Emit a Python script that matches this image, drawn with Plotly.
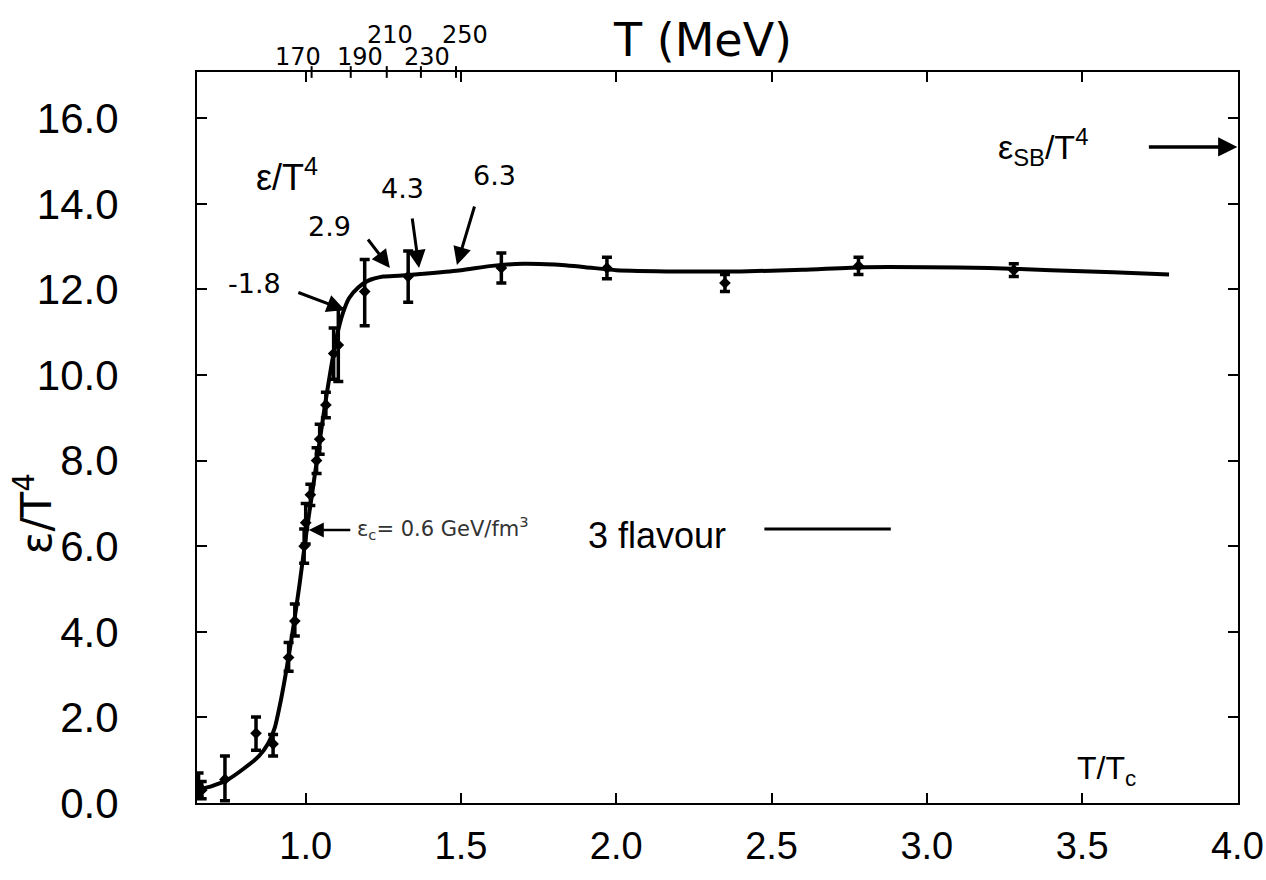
import plotly.graph_objects as go

# ---- data ----
t_over_tc = [0.655, 0.665, 0.74, 0.84, 0.895, 0.945, 0.965, 0.995, 1.0, 1.015, 1.035,
             1.045, 1.065, 1.09, 1.105, 1.19, 1.33, 1.63, 1.97, 2.35, 2.78, 3.28]
eps_t4 = [0.40, 0.30, 0.55, 1.63, 1.38, 3.40, 4.25, 6.0, 6.55, 7.2, 8.0,
          8.5, 9.3, 10.5, 10.7, 11.95, 12.3, 12.5, 12.5, 12.15, 12.55, 12.45]
err_up = [0.30, 0.20, 0.55, 0.38, 0.22, 0.35, 0.40, 0.40, 0.45, 0.25, 0.30,
          0.35, 0.30, 0.60, 0.85, 0.75, 0.60, 0.35, 0.25, 0.20, 0.20, 0.15]
err_dn = [0.25, 0.20, 0.50, 0.40, 0.28, 0.32, 0.35, 0.40, 0.50, 0.25, 0.30,
          0.35, 0.30, 0.60, 0.85, 0.80, 0.60, 0.35, 0.25, 0.20, 0.20, 0.15]

curve_x = [0.65, 0.70, 0.75, 0.80, 0.85, 0.88, 0.90, 0.92, 0.94, 0.96, 0.98, 1.00,
           1.02, 1.04, 1.06, 1.08, 1.10, 1.12, 1.14, 1.17, 1.20, 1.25, 1.30, 1.40,
           1.50, 1.60, 1.70, 1.80, 1.90, 2.00, 2.20, 2.40, 2.60, 2.80, 3.00, 3.20,
           3.40, 3.60, 3.78]
curve_y = [0.30, 0.40, 0.55, 0.80, 1.10, 1.40, 1.75, 2.40, 3.20, 4.10, 5.10, 6.20,
           7.20, 8.20, 9.20, 10.10, 10.90, 11.45, 11.80, 12.05, 12.20, 12.30, 12.32, 12.38,
           12.45, 12.55, 12.60, 12.58, 12.52, 12.45, 12.42, 12.42, 12.46, 12.52, 12.52, 12.50,
           12.45, 12.40, 12.35]

x_ticks = [1.0, 1.5, 2.0, 2.5, 3.0, 3.5, 4.0]
x_tick_text = ["1.0", "1.5", "2.0", "2.5", "3.0", "3.5", "4.0"]
y_ticks = [0, 2, 4, 6, 8, 10, 12, 14, 16]
y_tick_text = ["0.0", "2.0", "4.0", "6.0", "8.0", "10.0", "12.0", "14.0", "16.0"]

mev_labels = ["170", "190", "210", "230", "250"]
mev_pos = [1.019, 1.145, 1.261, 1.371, 1.484]

eps_sb = 15.33
# annotated ε values (GeV/fm^3) with arrow heads on the curve
ann_text = ["-1.8", "2.9", "4.3", "6.3"]
ann_head_x = [1.126, 1.271, 1.365, 1.487]
ann_head_y = [11.52, 12.50, 12.50, 12.57]

FONT = "Liberation Sans, Arial, Helvetica, sans-serif"
HAND = "DejaVu Sans, sans-serif"

fig = go.Figure()
fig.add_trace(go.Scatter(x=curve_x, y=curve_y, mode="lines",
                         line=dict(color="black", width=4, shape="spline", smoothing=0.6),
                         showlegend=False, hoverinfo="skip"))
fig.add_trace(go.Scatter(x=t_over_tc, y=eps_t4, mode="markers",
                         marker=dict(color="black", size=9, symbol="diamond"),
                         error_y=dict(type="data", symmetric=False, array=err_up, arrayminus=err_dn,
                                      color="black", thickness=3.5, width=5),
                         showlegend=False))

ann = []
ann_tail = [(-48, -18), (-23, -30), (-7, -51), (18, -60)]
text_off = [(-90, -26), (-60, -42), (-17, -80), (38, -90)]
for t, hx, hy, (ax, ay), (tx, ty) in zip(ann_text, ann_head_x, ann_head_y, ann_tail, text_off):
    ann.append(dict(x=hx, y=hy, xref="x", yref="y", text="", showarrow=True, ax=ax, ay=ay,
                    arrowhead=2, arrowsize=1.2, arrowwidth=3, arrowcolor="black"))
    ann.append(dict(x=hx, y=hy, xref="x", yref="y", text=t, showarrow=False, xshift=tx, yshift=-ty,
                    font=dict(family=HAND, size=27, color="black")))

# epsilon_c arrow + text
ann.append(dict(x=1.01, y=6.38, xref="x", yref="y", text="", showarrow=True, ax=43, ay=0,
                arrowhead=2, arrowsize=1.2, arrowwidth=2.5, arrowcolor="black"))
ann.append(dict(x=1.01, y=6.38, xref="x", yref="y", text="ε<sub>c</sub>= 0.6 GeV/fm<sup>3</sup>",
                showarrow=False, xanchor="left", xshift=46, yshift=2,
                font=dict(family=HAND, size=21, color="#333333")))
# legend-like text
ann.append(dict(x=2.13, y=6.25, xref="x", yref="y", text="3 flavour", showarrow=False,
                font=dict(family=FONT, size=36, color="black")))
# ε/T^4 label
ann.append(dict(x=0.94, y=14.67, xref="x", yref="y", text="ε/T<sup>4</sup>", showarrow=False,
                font=dict(family=FONT, size=36, color="black")))
# SB limit
ann.append(dict(x=3.374, y=eps_sb, xref="x", yref="y", text="ε<sub>SB</sub>/T<sup>4</sup>", showarrow=False,
                font=dict(family=FONT, size=34, color="black")))
ann.append(dict(x=4.0, y=eps_sb, xref="x", yref="y", text="", showarrow=True, ax=-90, ay=0,
                arrowhead=2, arrowsize=1.1, arrowwidth=3.5, arrowcolor="black"))
# T/Tc
ann.append(dict(x=3.58, y=0.77, xref="x", yref="y", text="T/T<sub>c</sub>", showarrow=False,
                font=dict(family=FONT, size=32, color="black")))
# top T (MeV) axis title
ann.append(dict(x=2.277, y=1, xref="x", yref="paper", text="T (MeV)", showarrow=False,
                yanchor="middle", xanchor="center", yshift=32,
                font=dict(family=HAND, size=46, color="black")))
mev_shift = [15, 15, 37, 15, 37]
mev_dx = [-0.045, 0.03, 0.01, 0.02, 0.03]
for lab, p, s, dx in zip(mev_labels, mev_pos, mev_shift, mev_dx):
    ann.append(dict(x=p + dx, y=1, xref="x", yref="paper", text=lab, showarrow=False, yshift=s,
                    yanchor="middle", xanchor="center",
                    font=dict(family=HAND, size=24, color="black")))
# y axis handwritten title
ann.append(dict(x=0, y=0.395, xref="paper", yref="paper", text="ε/T<sup>4</sup>", showarrow=False,
                xanchor="center", yanchor="middle", xshift=-163, textangle=-90,
                font=dict(family=HAND, size=42, color="black")))

shapes = []
for p in mev_pos:
    shapes.append(dict(type="line", xref="x", yref="paper", x0=p, x1=p, y0=0.992, y1=1.008,
                       line=dict(color="black", width=2)))
# legend sample line
shapes.append(dict(type="line", xref="x", yref="y", x0=2.477, x1=2.884, y0=6.4, y1=6.4,
                   line=dict(color="black", width=3)))

axis_common = dict(showline=True, linewidth=2, linecolor="black", mirror="ticks", ticks="inside",
                   ticklen=10, tickwidth=2, tickcolor="black", showgrid=False, zeroline=False,
                   automargin=False, ticklabeloverflow="allow")

fig.update_layout(
    width=1266, height=880, autosize=False,
    margin=dict(l=197, r=28, t=72, b=77),
    paper_bgcolor="white", plot_bgcolor="white",
    xaxis=dict(range=[0.65, 4.002], tickvals=x_ticks, ticktext=x_tick_text, ticklabelstandoff=8,
               tickfont=dict(family=FONT, size=38, color="black"), **axis_common),
    yaxis=dict(range=[0, 17.08], tickvals=y_ticks, ticktext=y_tick_text, ticklabelstandoff=68,
               tickfont=dict(family=FONT, size=42, color="black"), **axis_common),
    annotations=ann, shapes=shapes,
)

fig.write_html("out.html")
